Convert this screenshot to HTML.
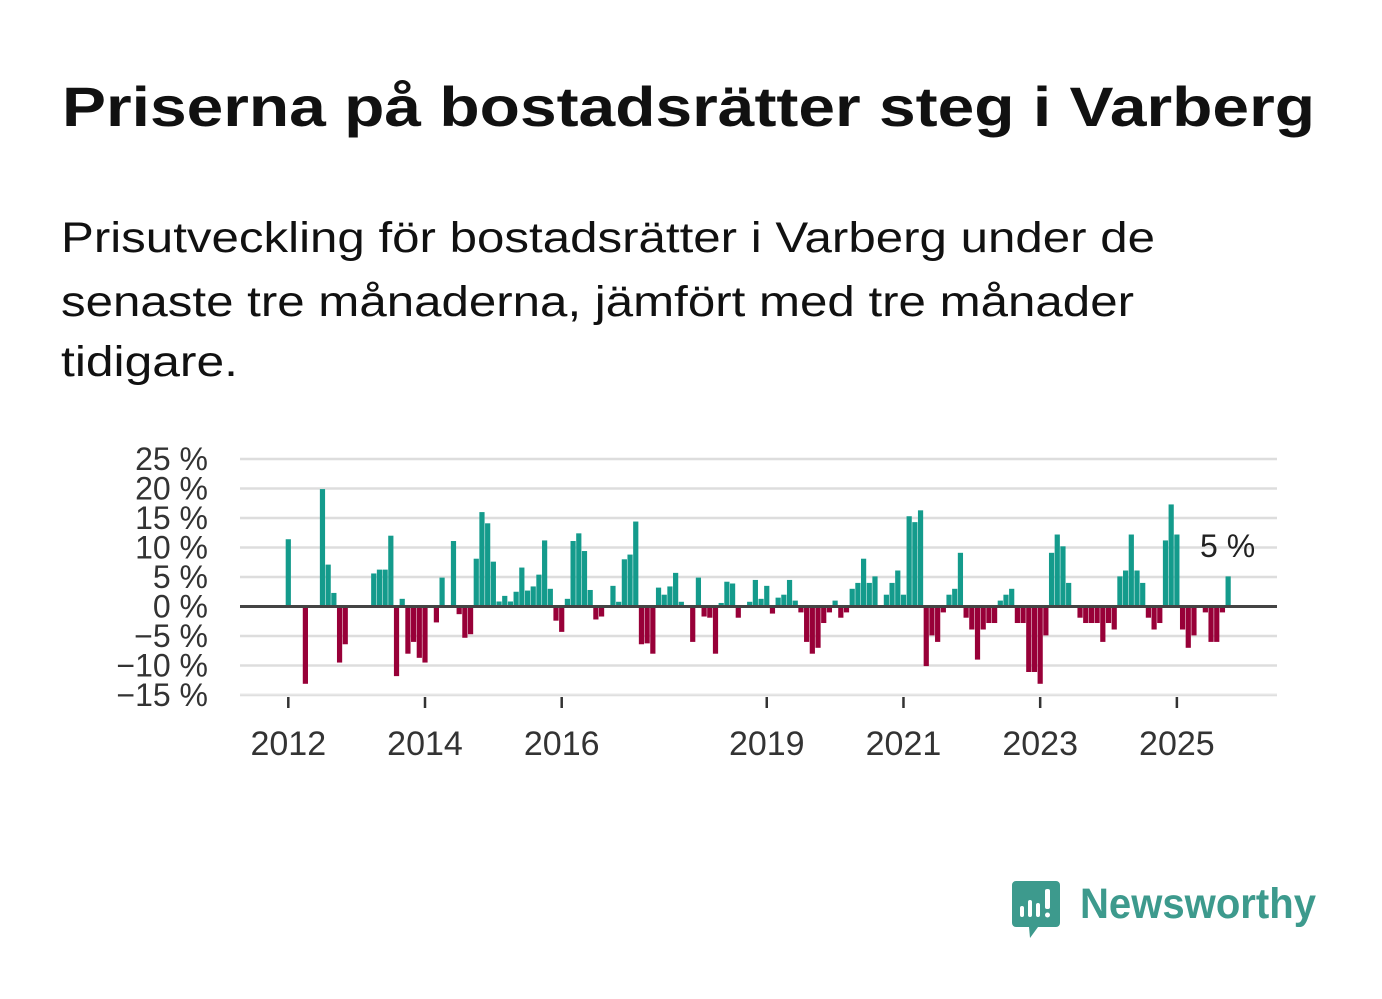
<!DOCTYPE html>
<html><head><meta charset="utf-8"><style>
html,body{margin:0;padding:0;background:#fff;}
svg{display:block;font-family:"Liberation Sans","DejaVu Sans",sans-serif;}
</style></head><body>
<svg id="chart" width="1382" height="999" viewBox="0 0 1382 999" xmlns="http://www.w3.org/2000/svg">
<rect width="1382" height="999" fill="#fff"/>
<text x="62" y="126" font-size="56" font-weight="bold" fill="#111" textLength="1253" lengthAdjust="spacingAndGlyphs">Priserna på bostadsrätter steg i Varberg</text>
<g font-size="43" fill="#111">
<text x="61" y="252" textLength="1094" lengthAdjust="spacingAndGlyphs">Prisutveckling för bostadsrätter i Varberg under de</text>
<text x="61" y="316" textLength="1073" lengthAdjust="spacingAndGlyphs">senaste tre månaderna, jämfört med tre månader</text>
<text x="61" y="376" textLength="177" lengthAdjust="spacingAndGlyphs">tidigare.</text>
</g>
<g id="grid"></g>
<g id="yticks"></g>
<g id="bars"></g>
<g id="xticks"></g>
<text x="1200" y="557" font-size="32" fill="#222">5 %</text>
<g>
<path d="M1016,881 h40 a4,4 0 0 1 4,4 v38 a4,4 0 0 1 -4,4 h-18 l-8,11 l-1,-11 h-13 a4,4 0 0 1 -4,-4 v-38 a4,4 0 0 1 4,-4z" fill="#3d9a8d"/>
<rect x="1020" y="906" width="4" height="11" rx="2" fill="#fff"/>
<rect x="1028" y="900" width="4" height="17" rx="2" fill="#fff"/>
<rect x="1036" y="903" width="4" height="14" rx="2" fill="#fff"/>
<rect x="1045" y="889" width="5" height="20" rx="2" fill="#fff"/>
<circle cx="1047.5" cy="915" r="2.5" fill="#fff"/>
<text x="1080" y="918" font-size="43" font-weight="bold" fill="#3d9a8d" textLength="236" lengthAdjust="spacingAndGlyphs">Newsworthy</text>
</g>
</svg>
<script>
const values = [11.4,null,null,-13.1,null,null,19.9,7.1,2.3,-9.5,-6.4,null,null,null,null,5.6,6.25,6.25,12,-11.8,1.3,-8,-6,-8.7,-9.5,null,-2.7,4.9,null,11.1,-1.3,-5.3,-4.7,8.1,16,14.1,7.6,0.85,1.8,0.85,2.5,6.6,2.7,3.4,5.4,11.2,3,-2.4,-4.3,1.3,11.1,12.4,9.4,2.8,-2.2,-1.7,null,3.5,0.8,8,8.8,14.4,-6.4,-6.25,-8,3.2,2,3.4,5.7,0.8,null,-6,4.9,-1.7,-1.9,-8,0.6,4.2,3.9,-1.9,null,0.8,4.5,1.3,3.5,-1.2,1.5,2,4.5,1,-1,-6,-8,-7,-2.8,-1,1,-1.9,-1,3,4,8.1,4,5.1,null,2,4,6.1,2,15.3,14.3,16.3,-10.1,-4.9,-6,-1,2,3,9.1,-1.9,-3.9,-9,-3.9,-2.8,-2.8,1,2,3,-2.8,-2.8,-11.1,-11.1,-13.1,-4.9,9.1,12.2,10.2,4,null,-1.9,-2.8,-2.8,-2.8,-6,-2.8,-3.9,5.1,6.1,12.2,6.1,4,-1.9,-3.9,-2.8,11.2,17.3,12.2,-3.9,-7,-4.9,null,-1,-6,-6,-1,5.1];
const startYear = 2012;
const yTicks = [25,20,15,10,5,0,-5,-10,-15];
const xTickYears = [2012,2014,2016,2019,2021,2023,2025];

const NS="http://www.w3.org/2000/svg";
function y(v){return 606.5 - v*5.9;}
function x(m){return 288.3 + m*5.696;}
function mk(tag,attrs,parent){const e=document.createElementNS(NS,tag);for(const k in attrs)e.setAttribute(k,attrs[k]);parent.appendChild(e);return e;}
const grid=document.getElementById('grid'), yt=document.getElementById('yticks'), bars=document.getElementById('bars'), xt=document.getElementById('xticks');
yTicks.forEach(t=>{
  const l=mk('line',{x1:240,x2:1277,y1:y(t),y2:y(t),stroke:t===0?'#444':'#ddd','stroke-width':t===0?3:2.5},t===0?xt:grid);
  
  
  const tx=mk('text',{x:208,y:y(t)+11,'text-anchor':'end','font-size':32,fill:'#333'},yt);
  tx.textContent=(t<0?'\u2212'+(-t):t)+' %';
  
  
});
mk('line',{x1:240,x2:1277,y1:694.5,y2:694.5,stroke:'#e6e6e6','stroke-width':1.5},grid);
values.forEach((v,i)=>{
  if(v===null)return;
  const r=mk('rect',{x:x(i)-2.6,width:5.2,y:Math.min(y(v),y(0)),height:Math.abs(y(v)-y(0)),fill:v>=0?'#149b8c':'#980038'},bars);
  
  
});
xTickYears.forEach(yr=>{
  const xx=x((yr-startYear)*12);
  mk('line',{x1:xx,x2:xx,y1:697,y2:708,stroke:'#333','stroke-width':2.5},xt);
  const tx=mk('text',{x:xx,y:755,'text-anchor':'middle','font-size':34,fill:'#333'},xt);
  tx.textContent=yr;
  
  
});
</script>
</body></html>
